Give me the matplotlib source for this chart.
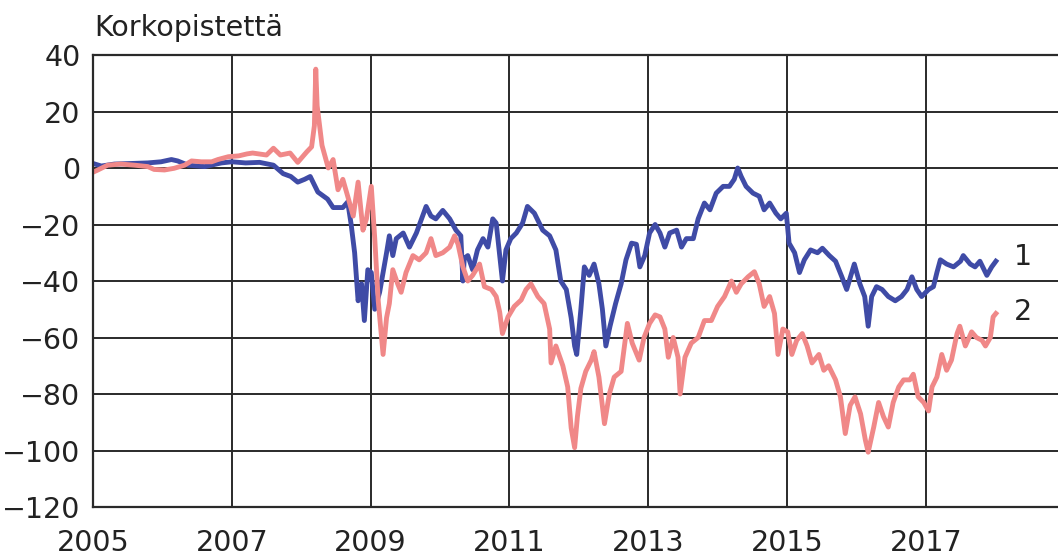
import matplotlib.pyplot as plt

# series 1 (blue)
years_1 = [2005.00, 2005.12, 2005.31, 2005.55, 2005.79, 2005.98, 2006.13, 2006.22, 2006.37, 2006.61,
           2006.85, 2007.00, 2007.20, 2007.40, 2007.60, 2007.74, 2007.85, 2007.95, 2008.05, 2008.13,
           2008.24, 2008.38, 2008.46, 2008.60, 2008.67, 2008.72, 2008.77, 2008.82, 2008.87, 2008.91,
           2008.96, 2009.01, 2009.06, 2009.13, 2009.23, 2009.27, 2009.32, 2009.37, 2009.47, 2009.56,
           2009.66, 2009.75, 2009.80, 2009.87, 2009.94, 2010.04, 2010.14, 2010.23, 2010.30, 2010.33,
           2010.35, 2010.40, 2010.47, 2010.54, 2010.62, 2010.69, 2010.76, 2010.81, 2010.86, 2010.90,
           2010.95, 2011.02, 2011.10, 2011.19, 2011.26, 2011.36, 2011.48, 2011.58, 2011.67, 2011.74,
           2011.82, 2011.89, 2011.94, 2011.97, 2012.03, 2012.08, 2012.15, 2012.22, 2012.29, 2012.34,
           2012.39, 2012.45, 2012.53, 2012.61, 2012.68, 2012.76, 2012.83, 2012.88, 2012.95, 2013.02,
           2013.10, 2013.17, 2013.24, 2013.31, 2013.41, 2013.48, 2013.55, 2013.65, 2013.72, 2013.81,
           2013.89, 2013.98, 2014.08, 2014.17, 2014.24, 2014.29, 2014.34, 2014.41, 2014.51, 2014.60,
           2014.67, 2014.75, 2014.84, 2014.91, 2014.99, 2015.03, 2015.11, 2015.18, 2015.25, 2015.34,
           2015.44, 2015.51, 2015.61, 2015.70, 2015.79, 2015.86, 2015.97, 2016.05, 2016.12, 2016.17,
           2016.22, 2016.29, 2016.37, 2016.46, 2016.56, 2016.65, 2016.73, 2016.80, 2016.87, 2016.94,
           2017.04, 2017.11, 2017.16, 2017.21, 2017.30, 2017.40, 2017.50, 2017.54, 2017.64, 2017.71,
           2017.78, 2017.88, 2017.95, 2018.01]
values_1 = [1.6, 0.7, 1.4, 1.6, 1.8, 2.2, 3.0, 2.5, 1.0, 0.5,
            1.8, 2.2, 1.8, 2.0, 1.0, -2.0, -3.0, -5.0, -4.0, -3.0,
            -8.5, -11, -14, -14, -12, -20, -30, -47, -41, -54,
            -36, -37, -50, -44, -30, -24, -31, -25, -23, -28,
            -23, -17, -13.6, -17, -18, -15, -18, -22, -24, -40,
            -32, -31, -36, -29, -25, -28, -18, -19.5, -31, -40,
            -29, -25, -23, -19.5, -13.6, -16, -22, -24, -29, -40,
            -43, -53, -63, -66, -50, -35, -38, -34, -41, -50,
            -63, -56, -48, -41, -32.5, -26.6, -27, -35, -31, -23,
            -20, -23, -28, -23, -22, -28, -25, -25, -18, -12.4,
            -14.8, -8.9, -6.5, -6.5, -4, 0, -3, -6.5, -8.9, -10,
            -14.8, -12.4, -16, -18, -16, -26.6, -30, -37, -32.5, -29,
            -30, -28.4, -31, -33, -38.5, -43, -34, -41, -45.5, -56,
            -45.5, -42, -43, -45.5, -47, -45.5, -43, -38.5, -43, -45.5,
            -43, -42, -37, -32.5, -34, -35, -33, -31, -34, -35,
            -33, -38, -35, -33]

# series 2 (pink)
years_2 = [2005.00, 2005.07, 2005.21, 2005.40, 2005.60, 2005.79, 2005.88, 2006.03, 2006.17, 2006.32,
           2006.42, 2006.56, 2006.71, 2006.80, 2006.95, 2007.10, 2007.22, 2007.30, 2007.50, 2007.60,
           2007.70, 2007.84, 2007.95, 2008.08, 2008.15, 2008.19, 2008.21, 2008.23, 2008.30, 2008.39,
           2008.46, 2008.53, 2008.60, 2008.67, 2008.75, 2008.82, 2008.89, 2008.94, 2009.01, 2009.06,
           2009.11, 2009.18, 2009.23, 2009.27, 2009.32, 2009.39, 2009.44, 2009.51, 2009.61, 2009.70,
           2009.80, 2009.87, 2009.94, 2010.04, 2010.14, 2010.21, 2010.26, 2010.33, 2010.40, 2010.47,
           2010.57, 2010.64, 2010.74, 2010.81, 2010.86, 2010.90, 2010.98, 2011.07, 2011.17, 2011.24,
           2011.31, 2011.41, 2011.50, 2011.58, 2011.60, 2011.67, 2011.77, 2011.84, 2011.89, 2011.94,
           2011.98, 2012.03, 2012.10, 2012.18, 2012.22, 2012.29, 2012.37, 2012.44, 2012.51, 2012.61,
           2012.70, 2012.77, 2012.87, 2012.94, 2013.02, 2013.10, 2013.17, 2013.24, 2013.29, 2013.36,
           2013.43, 2013.46, 2013.53, 2013.62, 2013.72, 2013.81, 2013.91, 2014.00, 2014.10, 2014.20,
           2014.27, 2014.34, 2014.44, 2014.53, 2014.60, 2014.67, 2014.75, 2014.82, 2014.87, 2014.94,
           2015.01, 2015.07, 2015.14, 2015.22, 2015.29, 2015.36, 2015.46, 2015.53, 2015.60, 2015.70,
           2015.77, 2015.84, 2015.91, 2015.98, 2016.06, 2016.13, 2016.17, 2016.25, 2016.32, 2016.39,
           2016.46, 2016.53, 2016.61, 2016.68, 2016.77, 2016.82, 2016.89, 2016.97, 2017.04, 2017.09,
           2017.16, 2017.23, 2017.30, 2017.37, 2017.45, 2017.49, 2017.57, 2017.66, 2017.73, 2017.81,
           2017.86, 2017.93, 2017.97, 2018.01]
values_2 = [-1.5, -0.7, 1.0, 1.4, 1.0, 0.5, -0.5, -0.7, -0.1, 1.0,
            2.5, 2.2, 2.2, 3.0, 4.0, 4.3, 5.0, 5.3, 4.6, 7.0,
            4.6, 5.3, 2.0, 5.7, 7.5, 15, 35, 22, 8, 0,
            3, -7.7, -4, -10, -17, -5, -22, -18, -6.5, -25,
            -47, -66, -53, -48, -36, -41, -44, -37, -31, -32.5,
            -30, -25, -31, -30, -28, -24, -27, -35, -40, -38,
            -34, -42, -43, -45.5, -51, -58.6, -52.7, -49, -46.7, -43,
            -41, -45.5, -48, -57, -69, -63, -70, -77.5, -92, -99,
            -88, -78, -72, -68, -65, -74, -90.5, -80, -74, -72,
            -55, -62, -68, -60, -55, -52, -52.7, -57, -67, -60,
            -67, -80, -67, -62, -60, -54, -54, -49, -45.5, -40,
            -44, -41, -38.5, -36.7, -41, -49, -45.5, -51.5, -66, -57,
            -58, -66, -61, -58.6, -63, -69, -66, -71.6, -70, -75,
            -81, -94, -84, -81, -87, -96.4, -100.6, -91.7, -83, -88,
            -91.7, -83, -77.5, -75, -75, -73, -81, -83, -86, -77.5,
            -74, -66, -71.6, -68, -58.6, -56, -63, -58, -60, -61,
            -63, -60, -52.7, -51.5]

x_ticks = [2005, 2007, 2009, 2011, 2013, 2015, 2017]
y_ticks = [-120, -100, -80, -60, -40, -20, 0, 20, 40]

fs = 20.5
fig = plt.figure(figsize=(10.58, 5.59), dpi=100)
ax = fig.add_axes([0.0879, 0.093, 0.9121, 0.8086])

ax.plot(years_1, values_1, color='#3f4ba6', lw=3.5, solid_joinstyle='round')
ax.plot(years_2, values_2, color='#f08888', lw=3.5, solid_joinstyle='round')

ax.set_xlim(2005, 2018.905)
ax.set_ylim(-120, 40)
ax.set_xticks(x_ticks)
ax.set_yticks(y_ticks)
ax.grid(True, color='#2a2a2a', lw=1.4)
ax.set_axisbelow(True)
ax.tick_params(length=0, labelsize=fs, colors='#222222')
ax.tick_params(axis='y', pad=9)
ax.tick_params(axis='x', pad=16)
for side in ['top', 'left', 'bottom']:
    ax.spines[side].set_color('#2a2a2a')
    ax.spines[side].set_linewidth(1.6)
ax.spines['right'].set_visible(False)

ax.text(2018.4, -31.5, '1', fontsize=fs, ha='center', va='center', color='#222222')
ax.text(2018.4, -51, '2', fontsize=fs, ha='center', va='center', color='#222222')
fig.text(0.0895, 0.95, 'Korkopistettä', fontsize=fs, ha='left', va='center', color='#222222')

fig.savefig('out.png', dpi=100)
